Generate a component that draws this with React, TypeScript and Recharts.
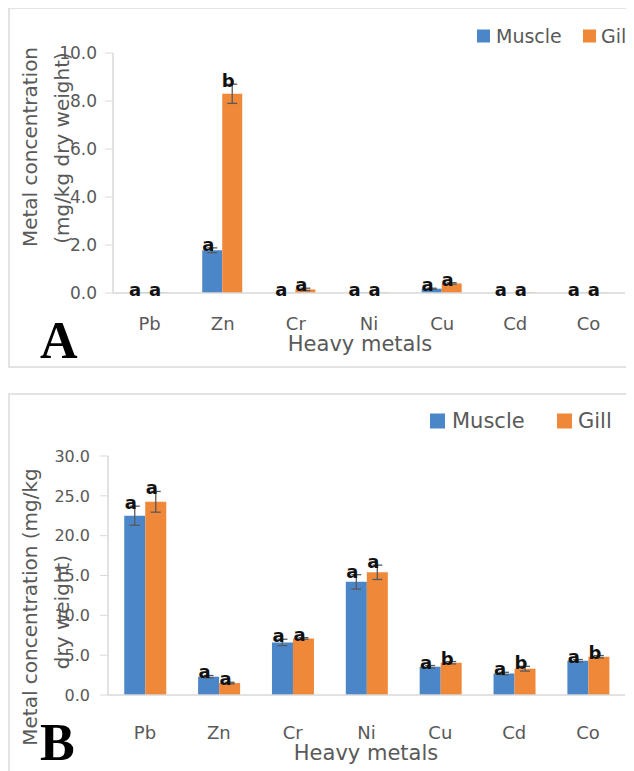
import React from 'react';
import { BarChart, Bar, XAxis, YAxis, ErrorBar, LabelList } from 'recharts';

const metals = ['Pb', 'Zn', 'Cr', 'Ni', 'Cu', 'Cd', 'Co'];

// Panel A (values under ~0.05 show as no visible bar)
const muscleA = [0.02, 1.78, 0.01, 0.02, 0.18, 0.01, 0.01];
const gillA = [0.02, 8.3, 0.15, 0.02, 0.4, 0.02, 0.01];
const muscleErrA = [0, 0.1, 0, 0, 0.02, 0, 0];
const gillErrA = [0, 0.4, 0.05, 0, 0.03, 0, 0];
const muscleLetterA = ['a', 'a', 'a', 'a', 'a', 'a', 'a'];
const gillLetterA = ['a', 'b', 'a', 'a', 'a', 'a', 'a'];
const ticksA = [0, 2, 4, 6, 8, 10];

// Panel B
const muscleB = [22.5, 2.3, 6.6, 14.2, 3.55, 2.7, 4.3];
const gillB = [24.25, 1.5, 7.1, 15.4, 4.05, 3.3, 4.8];
const muscleErrB = [1.2, 0.15, 0.4, 0.9, 0.15, 0.15, 0.15];
const gillErrB = [1.3, 0.1, 0.1, 0.9, 0.15, 0.3, 0.15];
const muscleLetterB = ['a', 'a', 'a', 'a', 'a', 'a', 'a'];
const gillLetterB = ['a', 'a', 'a', 'a', 'b', 'b', 'b'];
const ticksB = [0, 5, 10, 15, 20, 25, 30];

const BLUE = '#4A86C8';
const ORANGE = '#F0883A';
const GREY = '#595959';
const LINE = '#d9d9d9';
const FONT = '"DejaVu Sans", sans-serif';

const buildRows = (m: number[], g: number[], me: number[], ge: number[], ml: string[], gl: string[]) =>
  metals.map((name, i) => ({
    name,
    muscle: m[i],
    gill: g[i],
    muscleErr: me[i],
    gillErr: ge[i],
    muscleLetter: ml[i],
    gillLetter: gl[i],
  }));

const letterContent = (values: number[], errs: number[]) => (props: any) => {
  const { x, y, width, height, index, value } = props;
  const v = values[index] ?? 0;
  const e = errs[index] ?? 0;
  const ratio = v > 0 ? Math.abs(Number(height)) / v : 0;
  const top = Number(y) - e * ratio;
  return (
    <text
      x={Number(x) + Number(width) / 2 - 4}
      y={top + 3}
      textAnchor="middle"
      fontFamily={FONT}
      fontSize={18}
      fontWeight="bold"
      fill="#111"
    >
      {value}
    </text>
  );
};

interface PanelProps {
  rows: any[];
  m: number[];
  g: number[];
  me: number[];
  ge: number[];
  ticks: number[];
  width: number;
  height: number;
  top: number;
  axisW: number;
  xAxisH: number;
  tickFont: number;
  tickMarginY: number;
  tickMarginX: number;
  catFont: number;
  yTitle: [string, string];
  yTitleY: [number, number];
  xTitleX: number;
  xTitleY: number;
  letter: string;
  letterY: number;
  legend: { sq: number; font: number; y: number; mx: number; mt: number; gx: number; gt: number };
}

const Panel: React.FC<PanelProps> = (p) => {
  const L = p.legend;
  return (
    <div style={{ position: 'relative', width: p.width, height: p.height }}>
      <div
        style={{
          position: 'absolute', left: 0, top: 0, width: p.width, height: p.height,
          border: '2px solid #e3e3e3', boxSizing: 'border-box',
        }}
      />
      <div style={{ position: 'absolute', left: 0, top: 0 }}>
        <BarChart
          width={p.width}
          height={p.height}
          data={p.rows}
          margin={{ top: p.top, right: 7, bottom: 0, left: 0 }}
          barGap={0}
          barCategoryGap="22%"
        >
          <XAxis
            dataKey="name"
            height={p.xAxisH}
            tickLine={false}
            tickSize={0}
            tickMargin={p.tickMarginX}
            axisLine={{ stroke: LINE, strokeWidth: 1.5 }}
            tick={{ fill: GREY, fontSize: p.catFont, fontFamily: FONT }}
            interval={0}
          />
          <YAxis
            width={p.axisW}
            domain={[0, p.ticks[p.ticks.length - 1]]}
            ticks={p.ticks}
            interval={0}
            tickFormatter={(v: number) => v.toFixed(1)}
            tickSize={8}
            tickMargin={p.tickMarginY}
            tickLine={{ stroke: LINE }}
            axisLine={{ stroke: LINE, strokeWidth: 1.5 }}
            tick={{ fill: GREY, fontSize: p.tickFont, fontFamily: FONT }}
          />
          <Bar dataKey="muscle" fill={BLUE} isAnimationActive={false}>
            <ErrorBar dataKey="muscleErr" width={5} stroke={GREY} strokeWidth={1.3} />
            <LabelList dataKey="muscleLetter" content={letterContent(p.m, p.me)} />
          </Bar>
          <Bar dataKey="gill" fill={ORANGE} isAnimationActive={false}>
            <ErrorBar dataKey="gillErr" width={5} stroke={GREY} strokeWidth={1.3} />
            <LabelList dataKey="gillLetter" content={letterContent(p.g, p.ge)} />
          </Bar>
        </BarChart>
      </div>
      <svg
        width={p.width}
        height={p.height}
        style={{ position: 'absolute', left: 0, top: 0, pointerEvents: 'none' }}
      >
        <text
          transform={`translate(22, ${p.yTitleY[0]}) rotate(-90)`}
          textAnchor="middle"
          dominantBaseline="central"
          fontFamily={FONT}
          fontSize={20}
          fill={GREY}
        >
          {p.yTitle[0]}
        </text>
        <text
          transform={`translate(54, ${p.yTitleY[1]}) rotate(-90)`}
          textAnchor="middle"
          dominantBaseline="central"
          fontFamily={FONT}
          fontSize={20}
          fill={GREY}
        >
          {p.yTitle[1]}
        </text>
        <text x={p.xTitleX} y={p.xTitleY} textAnchor="middle" fontFamily={FONT} fontSize={21} fill={GREY}>
          Heavy metals
        </text>
        <text x={32} y={p.letterY} fontFamily='"Liberation Serif", "Times New Roman", serif' fontWeight="bold" fontSize={52} fill="#000">
          {p.letter}
        </text>
        <rect x={L.mx} y={L.y - L.sq / 2} width={L.sq} height={L.sq} fill={BLUE} />
        <text x={L.mt} y={L.y} dominantBaseline="central" fontFamily={FONT} fontSize={L.font} fill={GREY}>
          Muscle
        </text>
        <rect x={L.gx} y={L.y - L.sq / 2} width={L.sq} height={L.sq} fill={ORANGE} />
        <text x={L.gt} y={L.y} dominantBaseline="central" fontFamily={FONT} fontSize={L.font} fill={GREY}>
          Gill
        </text>
      </svg>
    </div>
  );
};

export default function App() {
  const rowsA = buildRows(muscleA, gillA, muscleErrA, gillErrA, muscleLetterA, gillLetterA);
  const rowsB = buildRows(muscleB, gillB, muscleErrB, gillErrB, muscleLetterB, gillLetterB);
  return (
    <div style={{ marginTop: -1, width: 624 }}>
      <style>{'body{overflow:hidden}'}</style>
      <Panel
        rows={rowsA}
        m={muscleA} g={gillA} me={muscleErrA} ge={gillErrA}
        ticks={ticksA}
        width={624}
        height={361}
        top={46}
        axisW={105}
        xAxisH={75}
        tickFont={17}
        tickMarginY={8}
        tickMarginX={24}
        catFont={18}
        yTitle={['Metal concentration', '(mg/kg dry weight)']}
        yTitleY={[140, 141]}
        xTitleX={352}
        xTitleY={344}
        letter="A"
        letterY={351}
        legend={{ sq: 13, font: 19, y: 29, mx: 469, mt: 488, gx: 575, gt: 593 }}
      />
      <div style={{ height: 25 }} />
      <Panel
        rows={rowsB}
        m={muscleB} g={gillB} me={muscleErrB} ge={gillErrB}
        ticks={ticksB}
        width={624}
        height={385}
        top={63}
        axisW={100}
        xAxisH={83}
        tickFont={16}
        tickMarginY={10}
        tickMarginX={31}
        catFont={18}
        yTitle={['Metal concentration (mg/kg', 'dry weight)']}
        yTitleY={[214, 219]}
        xTitleX={358}
        xTitleY={367}
        letter="B"
        letterY={367}
        legend={{ sq: 15, font: 21, y: 28, mx: 422, mt: 444, gx: 549, gt: 570 }}
      />
    </div>
  );
}
